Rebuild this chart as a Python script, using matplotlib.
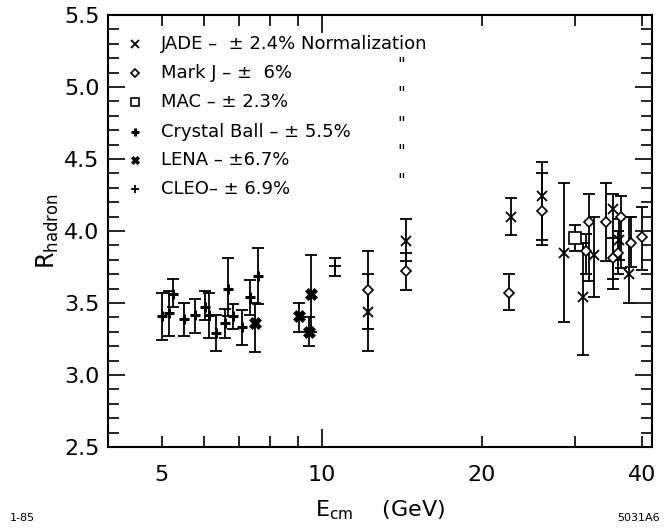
import matplotlib.pyplot as plt
import numpy as np
from matplotlib.ticker import FixedLocator, FixedFormatter, NullFormatter

# JADE
jade_e = [12.2, 14.4, 22.7, 25.9, 28.6, 31.0, 32.5, 35.3, 36.3, 37.9]
jade_r = [3.44, 3.93, 4.10, 4.24, 3.85, 3.54, 3.83, 4.15, 3.94, 3.70]
jade_lo = [3.17, 3.79, 3.97, 3.90, 3.37, 3.14, 3.54, 3.67, 3.80, 3.50]
jade_hi = [3.70, 4.08, 4.23, 4.48, 4.33, 3.92, 4.10, 4.26, 4.08, 4.10]

# Mark J
markj_e = [12.2, 14.4, 22.5, 25.9, 31.4, 31.8, 34.3, 35.3, 36.0, 36.6, 38.1, 40.0]
markj_r = [3.59, 3.72, 3.57, 4.14, 3.86, 4.06, 4.06, 3.81, 3.85, 4.10, 3.92, 3.96]
markj_lo = [3.32, 3.59, 3.45, 3.94, 3.70, 3.65, 3.79, 3.60, 3.70, 3.74, 3.75, 3.73]
markj_hi = [3.86, 3.85, 3.70, 4.40, 3.98, 4.26, 4.33, 3.95, 4.00, 4.24, 4.10, 4.17]

# MAC
mac_e = [30.0]
mac_r = [3.95]
mac_lo = [3.86]
mac_hi = [4.04]

# Crystal Ball
cb_e = [5.0, 5.15, 5.25, 5.5, 5.77, 6.03, 6.14, 6.32, 6.57, 6.67, 6.82, 7.09, 7.32, 7.58]
cb_r = [3.41, 3.43, 3.56, 3.39, 3.42, 3.47, 3.42, 3.29, 3.36, 3.60, 3.41, 3.33, 3.54, 3.69]
cb_lo = [3.24, 3.27, 3.47, 3.27, 3.29, 3.38, 3.26, 3.17, 3.26, 3.41, 3.32, 3.21, 3.42, 3.49]
cb_hi = [3.57, 3.58, 3.67, 3.50, 3.53, 3.58, 3.57, 3.42, 3.46, 3.81, 3.49, 3.45, 3.66, 3.88]

# LENA
lena_e = [7.5, 9.05, 9.45, 9.55]
lena_r = [3.36, 3.41, 3.30, 3.56]
lena_lo = [3.16, 3.30, 3.20, 3.30]
lena_hi = [3.50, 3.50, 3.40, 3.83]

# CLEO
cleo_e = [10.6]
cleo_r = [3.76]
cleo_lo = [3.69]
cleo_hi = [3.81]

legend_rows = ["JADE \u2013  \u00b1 2.4% Normalization",
               "Mark J \u2013 \u00b1  6%",
               "MAC \u2013 \u00b1 2.3%",
               "Crystal Ball \u2013 \u00b1 5.5%",
               "LENA \u2013 \u00b16.7%",
               "CLEO\u2013 \u00b1 6.9%"]

plt.rcParams['font.family'] = ['DejaVu Sans']

fig = plt.figure(figsize=(6.7, 5.32), dpi=100)
ax = fig.add_axes([108 / 670, 1 - 447 / 532, 544 / 670, 432 / 532])


def errs(r, lo, hi):
    r = np.array(r)
    return [r - np.array(lo), np.array(hi) - r]


eb = dict(fmt='none', ecolor='black', elinewidth=1.3, capsize=4, capthick=1.3)
ax.errorbar(cb_e, cb_r, yerr=errs(cb_r, cb_lo, cb_hi), **eb)
ax.errorbar(lena_e, lena_r, yerr=errs(lena_r, lena_lo, lena_hi), **eb)
ax.errorbar(cleo_e, cleo_r, yerr=errs(cleo_r, cleo_lo, cleo_hi), **eb)
ax.errorbar(jade_e, jade_r, yerr=errs(jade_r, jade_lo, jade_hi), **eb)
ax.errorbar(markj_e, markj_r, yerr=errs(markj_r, markj_lo, markj_hi), **eb)
ax.errorbar(mac_e, mac_r, yerr=errs(mac_r, mac_lo, mac_hi), **eb)

styles = {
    'jade': dict(marker='x', ms=7, mew=1.3, color='black', ls='none'),
    'markj': dict(marker='D', ms=5.5, mew=1.2, mfc='white', color='black', ls='none'),
    'mac': dict(marker='s', ms=8, mew=1.2, mfc='white', color='black', ls='none'),
    'cb': dict(marker='+', ms=7, mew=2.2, color='black', ls='none'),
    'lena': dict(marker='X', ms=8, mew=0.5, color='black', ls='none'),
    'cleo': dict(marker='+', ms=8, mew=1.3, color='black', ls='none'),
}
ax.plot(cb_e, cb_r, **styles['cb'])
ax.plot(lena_e, lena_r, **styles['lena'])
ax.plot(cleo_e, cleo_r, **styles['cleo'])
ax.plot(jade_e, jade_r, **styles['jade'])
ax.plot(markj_e, markj_r, **styles['markj'])
ax.plot(mac_e, mac_r, **styles['mac'])

ax.set_xscale('log')
ax.set_xlim(3.96, 41.8)
ax.set_ylim(2.5, 5.5)

ax.xaxis.set_major_locator(FixedLocator([10]))
ax.xaxis.set_major_formatter(FixedFormatter(['10']))
ax.xaxis.set_minor_locator(FixedLocator([5, 6, 7, 8, 9, 20, 30, 40]))
ax.xaxis.set_minor_formatter(FixedFormatter(['5', '', '', '', '', '20', '', '40']))
ax.yaxis.set_major_locator(FixedLocator(np.arange(2.5, 5.51, 0.5)))
ax.yaxis.set_major_formatter(FixedFormatter(['2.5', '3.0', '3.5', '4.0', '4.5', '5.0', '5.5']))
ax.yaxis.set_minor_locator(FixedLocator(np.arange(2.6, 5.45, 0.1)))
ax.yaxis.set_minor_formatter(NullFormatter())

ax.tick_params(which='both', direction='in', top=True, right=True, width=1.2, labelsize=16)
ax.tick_params(axis='x', which='major', length=13, pad=13)
ax.tick_params(axis='x', which='minor', length=8, pad=13)
ax.tick_params(axis='y', which='major', length=12, pad=6)
ax.tick_params(axis='y', which='minor', length=8)
for s in ax.spines.values():
    s.set_linewidth(1.5)

# legend drawn by hand
row_y = [44, 73, 102, 132, 160, 189]
leg_keys = ['jade', 'markj', 'mac', 'cb', 'lena', 'cleo']
for key, label, yp in zip(leg_keys, legend_rows, row_y):
    fy = 1 - yp / 532
    st = dict(styles[key])
    st['ms'] = st['ms'] * 0.75
    ax.plot([135 / 670], [fy], transform=fig.transFigure, clip_on=False, **st)
    fig.text(161 / 670, fy, label, fontsize=13, va='center', ha='left')
for yp in row_y[1:]:
    fig.text(401 / 670, 1 - (yp - 8) / 532, '"', fontsize=12, va='center', ha='center')

ax.set_ylabel('R$_{\\mathrm{hadron}}$', fontsize=17, labelpad=2)
fig.text(380 / 670, 1 - 510 / 532, 'E$_{\\mathrm{cm}}$    (GeV)', fontsize=16, ha='center', va='center')
fig.text(10 / 670, 1 - 518 / 532, '1-85', fontsize=8, ha='left', va='center')
fig.text(660 / 670, 1 - 518 / 532, '5031A6', fontsize=8, ha='right', va='center')

fig.savefig('out.png', dpi=100)
